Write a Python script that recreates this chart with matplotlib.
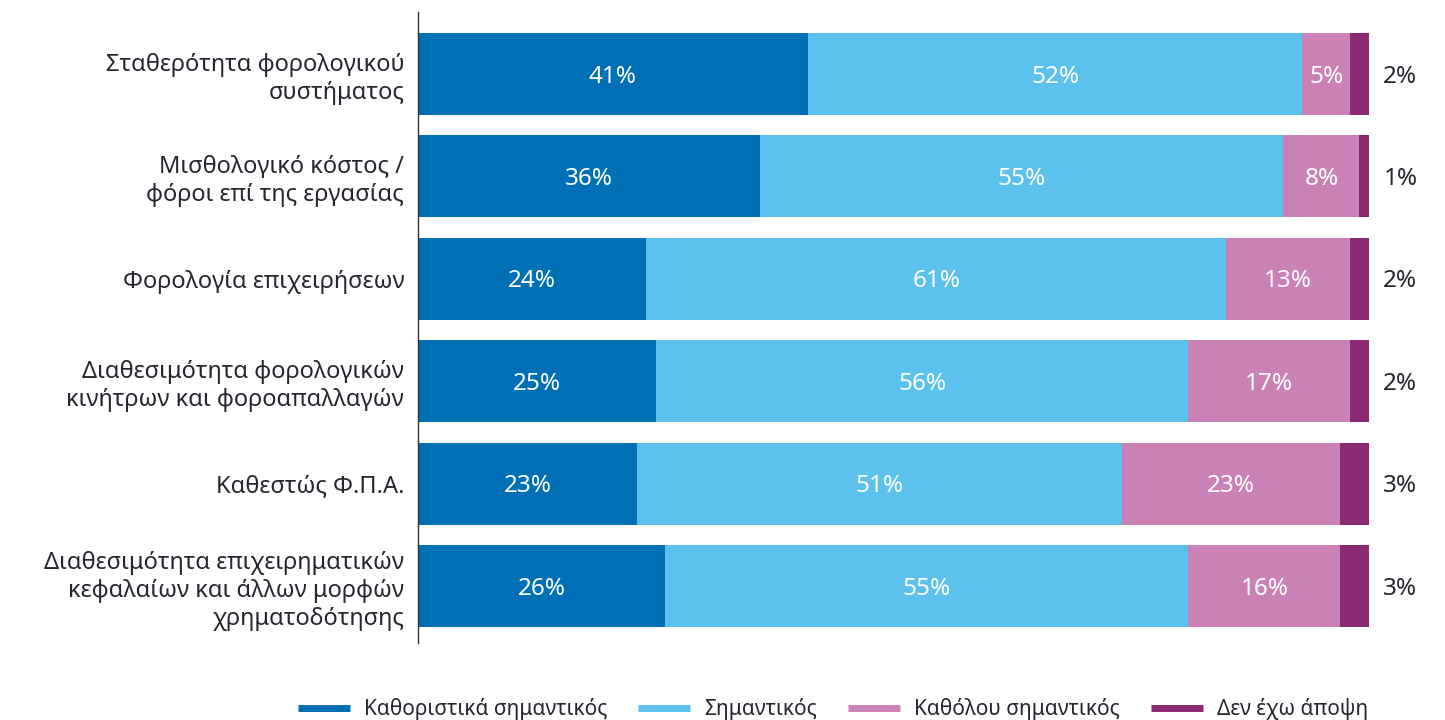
import matplotlib
matplotlib.use("Agg")
import matplotlib.pyplot as plt
from matplotlib.lines import Line2D

plt.rcParams['font.family'] = ['Noto Sans', 'DejaVu Sans']

categories = [
    "Σταθερότητα φορολογικού\nσυστήματος",
    "Μισθολογικό κόστος /\nφόροι επί της εργασίας",
    "Φορολογία επιχειρήσεων",
    "Διαθεσιμότητα φορολογικών\nκινήτρων και φοροαπαλλαγών",
    "Καθεστώς Φ.Π.Α.",
    "Διαθεσιμότητα επιχειρηματικών\nκεφαλαίων και άλλων μορφών\nχρηματοδότησης",
]
series_names = ["Καθοριστικά σημαντικός", "Σημαντικός", "Καθόλου σημαντικός", "Δεν έχω άποψη"]
crucial = [41, 36, 24, 25, 23, 26]
important = [52, 55, 61, 56, 51, 55]
not_important = [5, 8, 13, 17, 23, 16]
no_opinion = [2, 1, 2, 2, 3, 3]

colors = ["#0070B6", "#5CC1ED", "#C981B6", "#8C2975"]
text_dark = "#23272F"

fig = plt.figure(figsize=(14.45, 7.2), dpi=100)
ax = fig.add_axes([0.2893, 0.1069, 0.6581, 0.8764])

ypos = list(range(len(categories)))
left = [0] * len(categories)
all_series = [crucial, important, not_important, no_opinion]
for i, (vals, col) in enumerate(zip(all_series, colors)):
    ax.barh(ypos, vals, left=left, height=0.8, color=col, edgecolor="none")
    for y, l, v in zip(ypos, left, vals):
        if i < 3:
            ax.text(l + v / 2, y + 0.025, f"{v}%", ha="center", va="center",
                    color="white", fontsize=17.5)
        else:
            ax.text(l + v + 3.3, y + 0.025, f"{v}%", ha="center", va="center",
                    color=text_dark, fontsize=17.5)
    left = [a + b for a, b in zip(left, vals)]

ax.set_xlim(0, 100)
ax.set_ylim(5.557, -0.605)
ax.set_yticks(ypos)
ax.set_yticklabels(categories, fontsize=17, color=text_dark, linespacing=1.22)
ax.tick_params(axis="y", length=0, pad=10)
ax.set_xticks([])
for s in ["top", "right", "bottom"]:
    ax.spines[s].set_visible(False)
ax.spines["left"].set_color("#333333")
ax.spines["left"].set_linewidth(1.0)

handles = [Line2D([0], [0], color=c, lw=5, solid_capstyle="butt") for c in colors]
fig.legend(handles, series_names, loc="center", bbox_to_anchor=(0.5765, 0.015),
           ncol=4, frameon=False, fontsize=15, handlelength=2.5,
           columnspacing=1.45, handletextpad=0.7, labelcolor=text_dark)

fig.savefig("out.png", dpi=100)
